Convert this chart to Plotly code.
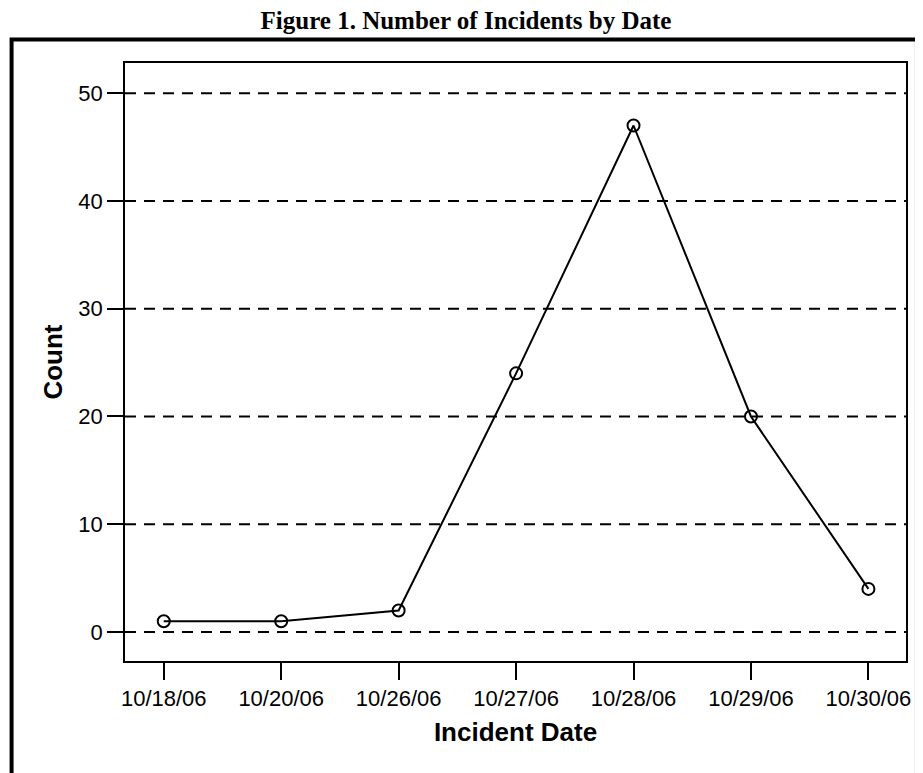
import plotly.graph_objects as go

dates = ["10/18/06", "10/20/06", "10/26/06", "10/27/06", "10/28/06", "10/29/06", "10/30/06"]
counts = [1, 1, 2, 24, 47, 20, 4]
y_ticks = [0, 10, 20, 30, 40, 50]

OFF = 8  # page body margin
W, H = 923 - OFF, 773 - OFF
# plot area in page pixels: x 125..910, y 63..661
PL, PR, PT, PB = 125, 910, 63, 661
L, R, T, B = PL - OFF, W - (PR - OFF), PT - OFF, H - (PB - OFF)
pw, ph = PR - PL, PB - PT

def px_x(px):
    return (px - PL) / pw

def px_y(py):
    return (PB - py) / ph

fig = go.Figure()
fig.add_trace(go.Scatter(
    x=dates, y=counts, mode="lines+markers",
    line=dict(color="black", width=2),
    marker=dict(symbol="circle-open", size=12, color="black", line=dict(width=2)),
    showlegend=False, hoverinfo="x+y",
))

for v in y_ticks:
    fig.add_shape(type="line", xref="paper", yref="y", x0=0, x1=1, y0=v, y1=v,
                  line=dict(color="black", width=2, dash="11px,8px"), layer="below")

fig.add_shape(type="path", xref="paper", yref="paper",
              path=f"M {px_x(11)},{px_y(820)} L {px_x(11)},{px_y(39.5)} L {px_x(921)},{px_y(39.5)} L {px_x(921)},{px_y(820)}",
              line=dict(color="black", width=4))

fig.update_layout(
    width=W, height=H,
    margin=dict(l=L, r=R, t=T, b=B),
    paper_bgcolor="white", plot_bgcolor="white",
    font=dict(family="Arial, Liberation Sans, sans-serif", size=22, color="black"),
    title=dict(text="<b>Figure 1. Number of Incidents by Date</b>",
               font=dict(family="Times New Roman, Liberation Serif, serif", size=25, color="black"),
               x=(466 - OFF) / W, xref="container", xanchor="center",
               y=1 - (20 - OFF) / H, yref="container", yanchor="middle"),
    xaxis=dict(
        type="category", range=[-0.33, 6.32],
        showline=True, linecolor="black", linewidth=1.5, mirror=True,
        ticks="outside", ticklen=17, tickwidth=2, tickcolor="black",
        showgrid=False, zeroline=False,
        tickfont=dict(size=22),
        title=dict(text="<b>Incident Date</b>", font=dict(size=26), standoff=13),
    ),
    yaxis=dict(
        range=[-2.69, 52.8], tickvals=y_ticks,
        showline=True, linecolor="black", linewidth=1.5, mirror=True,
        ticks="outside", ticklen=16, tickwidth=2, tickcolor="black",
        showgrid=False, zeroline=False,
        tickfont=dict(size=22),
        title=dict(text="<b>Count</b>", font=dict(size=26), standoff=8),
    ),
)

fig.write_html("out.html")
